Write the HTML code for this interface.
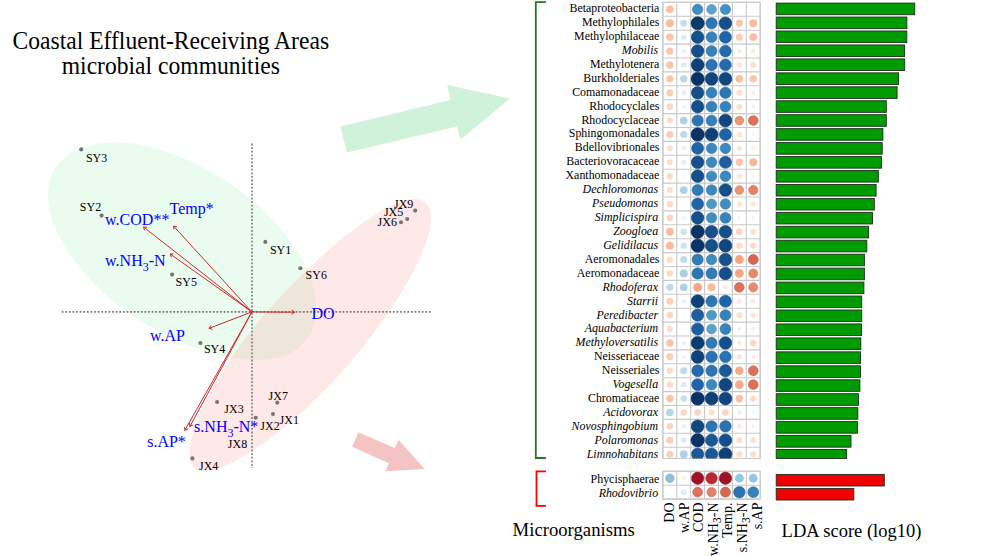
<!DOCTYPE html>
<html><head><meta charset="utf-8"><style>
html,body{margin:0;padding:0;background:#fff;width:1000px;height:556px;overflow:hidden}
svg{display:block}
text{font-family:"Liberation Serif",serif}
</style></head><body>
<svg width="1000" height="556" viewBox="0 0 1000 556">
<defs>
<clipPath id="gclip"><rect x="600" y="0" width="200" height="458.5"/></clipPath>
<clipPath id="pinkclip"><path d="M427.3,204.9 L428.2,206.2 L429.0,207.7 L429.6,209.3 L430.1,211.1 L430.5,213.0 L430.7,215.0 L430.8,217.1 L430.8,219.3 L430.7,221.6 L430.5,224.0 L430.1,226.6 L429.7,229.2 L429.1,231.9 L428.4,234.8 L427.6,237.7 L426.7,240.6 L425.6,243.7 L424.5,246.9 L423.3,250.1 L421.9,253.4 L420.5,256.7 L418.9,260.2 L417.3,263.6 L415.5,267.2 L413.7,270.8 L411.8,274.4 L409.8,278.1 L407.7,281.8 L405.5,285.5 L403.3,289.3 L401.0,293.1 L398.6,297.0 L396.1,300.8 L393.6,304.7 L391.0,308.6 L388.3,312.5 L385.6,316.5 L382.9,320.4 L380.0,324.3 L377.2,328.3 L374.2,332.2 L371.2,336.2 L368.2,340.1 L365.1,344.0 L362.0,348.0 L358.8,351.9 L355.6,355.8 L352.4,359.7 L349.1,363.5 L345.7,367.4 L342.4,371.2 L339.0,375.0 L335.6,378.7 L332.1,382.4 L328.7,386.1 L325.2,389.7 L321.7,393.2 L318.2,396.7 L314.7,400.2 L311.1,403.6 L307.6,406.9 L304.1,410.2 L300.6,413.3 L297.1,416.5 L293.6,419.5 L290.1,422.5 L286.7,425.4 L283.2,428.2 L279.8,431.0 L276.4,433.6 L273.0,436.2 L269.7,438.7 L266.3,441.2 L263.0,443.5 L259.8,445.8 L256.5,448.0 L253.3,450.2 L250.2,452.2 L247.0,454.2 L243.9,456.0 L240.9,457.8 L237.8,459.5 L234.9,461.1 L232.0,462.6 L229.1,464.0 L226.3,465.3 L223.5,466.4 L220.8,467.5 L218.2,468.4 L215.7,469.2 L213.3,469.8 L210.9,470.3 L208.7,470.7 L206.5,470.9 L204.5,471.0 L202.6,470.9 L200.8,470.7 L199.1,470.3 L197.6,469.7 L196.1,469.0 L194.9,468.1 L193.7,467.0 L192.7,465.8 L191.8,464.5 L191.1,462.9 L190.5,461.3 L190.0,459.5 L189.7,457.5 L189.5,455.5 L189.5,453.3 L189.5,450.9 L189.7,448.5 L190.0,445.9 L190.5,443.3 L191.0,440.5 L191.7,437.7 L192.5,434.7 L193.4,431.7 L194.4,428.5 L195.5,425.3 L196.7,422.0 L198.0,418.7 L199.4,415.2 L200.9,411.7 L202.5,408.1 L204.2,404.5 L206.0,400.7 L207.9,396.9 L210.0,393.1 L212.1,389.2 L214.3,385.2 L216.6,381.1 L219.1,377.0 L221.6,372.9 L224.2,368.7 L227.0,364.5 L229.8,360.2 L232.7,355.9 L235.7,351.6 L238.8,347.3 L242.0,342.9 L245.3,338.6 L248.6,334.2 L252.0,329.9 L255.5,325.5 L259.1,321.2 L262.6,316.9 L266.3,312.7 L269.9,308.4 L273.7,304.3 L277.4,300.1 L281.2,296.0 L284.9,292.0 L288.7,288.0 L292.6,284.1 L296.4,280.2 L300.2,276.4 L304.0,272.7 L307.9,269.0 L311.7,265.4 L315.5,261.8 L319.3,258.3 L323.1,254.9 L326.9,251.5 L330.7,248.2 L334.5,245.0 L338.2,241.9 L341.9,238.8 L345.7,235.8 L349.3,232.9 L353.0,230.1 L356.6,227.3 L360.2,224.7 L363.8,222.1 L367.3,219.7 L370.8,217.4 L374.2,215.2 L377.6,213.1 L380.9,211.1 L384.2,209.3 L387.3,207.6 L390.4,206.1 L393.4,204.7 L396.3,203.4 L399.1,202.3 L401.8,201.4 L404.4,200.6 L406.9,200.0 L409.3,199.5 L411.6,199.2 L413.7,199.1 L415.7,199.1 L417.6,199.3 L419.4,199.6 L421.1,200.1 L422.6,200.8 L424.0,201.6 L425.2,202.5 L426.3,203.6Z"/></clipPath>
</defs>
<!-- title -->
<g font-size="23.6" text-anchor="middle" fill="#000">
<text transform="translate(170.8,48.6) scale(1,1.08)">Coastal Effluent-Receiving Areas</text>
<text transform="translate(170.8,74.2) scale(1,1.08)">microbial communities</text>
</g>
<!-- ellipses -->
<path d="M310.3,333.9 L309.1,336.1 L307.7,338.2 L306.2,340.3 L304.6,342.3 L302.9,344.1 L301.0,345.9 L299.0,347.6 L296.9,349.2 L294.6,350.7 L292.2,352.1 L289.7,353.4 L287.0,354.5 L284.3,355.6 L281.4,356.5 L278.4,357.4 L275.3,358.1 L272.1,358.6 L268.8,359.1 L265.4,359.5 L261.9,359.7 L258.3,359.8 L254.7,359.8 L250.9,359.7 L247.1,359.5 L243.3,359.2 L239.3,358.7 L235.4,358.2 L231.3,357.5 L227.2,356.7 L223.1,355.9 L218.9,354.9 L214.7,353.8 L210.5,352.7 L206.2,351.4 L202.0,350.0 L197.6,348.6 L193.3,347.0 L189.0,345.4 L184.6,343.6 L180.3,341.8 L175.9,339.9 L171.6,337.9 L167.2,335.8 L162.9,333.6 L158.6,331.3 L154.2,329.0 L150.0,326.5 L145.7,324.0 L141.5,321.4 L137.3,318.7 L133.2,315.9 L129.1,313.1 L125.1,310.2 L121.1,307.2 L117.2,304.2 L113.4,301.1 L109.6,298.0 L106.0,294.8 L102.4,291.6 L98.9,288.3 L95.5,284.9 L92.2,281.6 L89.0,278.2 L85.9,274.8 L82.9,271.4 L80.1,267.9 L77.3,264.4 L74.6,261.0 L72.1,257.5 L69.7,254.0 L67.4,250.6 L65.2,247.1 L63.2,243.6 L61.3,240.2 L59.5,236.8 L57.8,233.4 L56.3,230.0 L54.9,226.6 L53.6,223.3 L52.4,220.0 L51.4,216.8 L50.5,213.5 L49.8,210.4 L49.2,207.2 L48.7,204.2 L48.3,201.2 L48.1,198.2 L48.1,195.3 L48.1,192.4 L48.3,189.6 L48.6,186.9 L49.1,184.3 L49.6,181.7 L50.3,179.2 L51.2,176.7 L52.1,174.4 L53.2,172.1 L54.4,169.9 L55.7,167.7 L57.2,165.7 L58.7,163.7 L60.4,161.8 L62.1,160.0 L64.0,158.3 L66.0,156.7 L68.1,155.1 L70.3,153.6 L72.6,152.3 L74.9,151.0 L77.4,149.7 L80.0,148.6 L82.6,147.6 L85.4,146.6 L88.2,145.8 L91.2,145.0 L94.2,144.4 L97.3,143.8 L100.5,143.3 L103.7,142.9 L107.1,142.7 L110.5,142.5 L114.0,142.4 L117.6,142.4 L121.2,142.6 L125.0,142.8 L128.7,143.2 L132.6,143.6 L136.5,144.2 L140.4,144.9 L144.4,145.7 L148.5,146.6 L152.6,147.6 L156.7,148.7 L160.9,149.9 L165.1,151.2 L169.3,152.7 L173.5,154.2 L177.7,155.8 L182.0,157.6 L186.2,159.4 L190.5,161.3 L194.7,163.3 L199.0,165.4 L203.2,167.6 L207.4,169.9 L211.5,172.2 L215.7,174.7 L219.8,177.2 L223.9,179.8 L227.9,182.4 L231.9,185.1 L235.8,187.9 L239.7,190.7 L243.5,193.6 L247.2,196.6 L250.9,199.6 L254.5,202.6 L258.0,205.7 L261.5,208.8 L264.9,212.0 L268.2,215.2 L271.4,218.5 L274.5,221.7 L277.5,225.0 L280.4,228.4 L283.2,231.7 L285.8,235.0 L288.4,238.4 L290.9,241.8 L293.2,245.1 L295.5,248.5 L297.6,251.8 L299.6,255.2 L301.5,258.5 L303.3,261.8 L304.9,265.1 L306.4,268.4 L307.8,271.7 L309.1,274.9 L310.3,278.1 L311.4,281.3 L312.3,284.5 L313.2,287.6 L313.9,290.6 L314.5,293.7 L315.0,296.7 L315.4,299.7 L315.7,302.6 L315.9,305.5 L315.9,308.3 L315.9,311.1 L315.7,313.8 L315.5,316.5 L315.1,319.2 L314.6,321.8 L314.0,324.3 L313.2,326.8 L312.4,329.2 L311.4,331.6Z" fill="#eafbf0"/>
<path d="M427.3,204.9 L428.2,206.2 L429.0,207.7 L429.6,209.3 L430.1,211.1 L430.5,213.0 L430.7,215.0 L430.8,217.1 L430.8,219.3 L430.7,221.6 L430.5,224.0 L430.1,226.6 L429.7,229.2 L429.1,231.9 L428.4,234.8 L427.6,237.7 L426.7,240.6 L425.6,243.7 L424.5,246.9 L423.3,250.1 L421.9,253.4 L420.5,256.7 L418.9,260.2 L417.3,263.6 L415.5,267.2 L413.7,270.8 L411.8,274.4 L409.8,278.1 L407.7,281.8 L405.5,285.5 L403.3,289.3 L401.0,293.1 L398.6,297.0 L396.1,300.8 L393.6,304.7 L391.0,308.6 L388.3,312.5 L385.6,316.5 L382.9,320.4 L380.0,324.3 L377.2,328.3 L374.2,332.2 L371.2,336.2 L368.2,340.1 L365.1,344.0 L362.0,348.0 L358.8,351.9 L355.6,355.8 L352.4,359.7 L349.1,363.5 L345.7,367.4 L342.4,371.2 L339.0,375.0 L335.6,378.7 L332.1,382.4 L328.7,386.1 L325.2,389.7 L321.7,393.2 L318.2,396.7 L314.7,400.2 L311.1,403.6 L307.6,406.9 L304.1,410.2 L300.6,413.3 L297.1,416.5 L293.6,419.5 L290.1,422.5 L286.7,425.4 L283.2,428.2 L279.8,431.0 L276.4,433.6 L273.0,436.2 L269.7,438.7 L266.3,441.2 L263.0,443.5 L259.8,445.8 L256.5,448.0 L253.3,450.2 L250.2,452.2 L247.0,454.2 L243.9,456.0 L240.9,457.8 L237.8,459.5 L234.9,461.1 L232.0,462.6 L229.1,464.0 L226.3,465.3 L223.5,466.4 L220.8,467.5 L218.2,468.4 L215.7,469.2 L213.3,469.8 L210.9,470.3 L208.7,470.7 L206.5,470.9 L204.5,471.0 L202.6,470.9 L200.8,470.7 L199.1,470.3 L197.6,469.7 L196.1,469.0 L194.9,468.1 L193.7,467.0 L192.7,465.8 L191.8,464.5 L191.1,462.9 L190.5,461.3 L190.0,459.5 L189.7,457.5 L189.5,455.5 L189.5,453.3 L189.5,450.9 L189.7,448.5 L190.0,445.9 L190.5,443.3 L191.0,440.5 L191.7,437.7 L192.5,434.7 L193.4,431.7 L194.4,428.5 L195.5,425.3 L196.7,422.0 L198.0,418.7 L199.4,415.2 L200.9,411.7 L202.5,408.1 L204.2,404.5 L206.0,400.7 L207.9,396.9 L210.0,393.1 L212.1,389.2 L214.3,385.2 L216.6,381.1 L219.1,377.0 L221.6,372.9 L224.2,368.7 L227.0,364.5 L229.8,360.2 L232.7,355.9 L235.7,351.6 L238.8,347.3 L242.0,342.9 L245.3,338.6 L248.6,334.2 L252.0,329.9 L255.5,325.5 L259.1,321.2 L262.6,316.9 L266.3,312.7 L269.9,308.4 L273.7,304.3 L277.4,300.1 L281.2,296.0 L284.9,292.0 L288.7,288.0 L292.6,284.1 L296.4,280.2 L300.2,276.4 L304.0,272.7 L307.9,269.0 L311.7,265.4 L315.5,261.8 L319.3,258.3 L323.1,254.9 L326.9,251.5 L330.7,248.2 L334.5,245.0 L338.2,241.9 L341.9,238.8 L345.7,235.8 L349.3,232.9 L353.0,230.1 L356.6,227.3 L360.2,224.7 L363.8,222.1 L367.3,219.7 L370.8,217.4 L374.2,215.2 L377.6,213.1 L380.9,211.1 L384.2,209.3 L387.3,207.6 L390.4,206.1 L393.4,204.7 L396.3,203.4 L399.1,202.3 L401.8,201.4 L404.4,200.6 L406.9,200.0 L409.3,199.5 L411.6,199.2 L413.7,199.1 L415.7,199.1 L417.6,199.3 L419.4,199.6 L421.1,200.1 L422.6,200.8 L424.0,201.6 L425.2,202.5 L426.3,203.6Z" fill="#ffe8e8"/>
<g clip-path="url(#pinkclip)"><path d="M310.3,333.9 L309.1,336.1 L307.7,338.2 L306.2,340.3 L304.6,342.3 L302.9,344.1 L301.0,345.9 L299.0,347.6 L296.9,349.2 L294.6,350.7 L292.2,352.1 L289.7,353.4 L287.0,354.5 L284.3,355.6 L281.4,356.5 L278.4,357.4 L275.3,358.1 L272.1,358.6 L268.8,359.1 L265.4,359.5 L261.9,359.7 L258.3,359.8 L254.7,359.8 L250.9,359.7 L247.1,359.5 L243.3,359.2 L239.3,358.7 L235.4,358.2 L231.3,357.5 L227.2,356.7 L223.1,355.9 L218.9,354.9 L214.7,353.8 L210.5,352.7 L206.2,351.4 L202.0,350.0 L197.6,348.6 L193.3,347.0 L189.0,345.4 L184.6,343.6 L180.3,341.8 L175.9,339.9 L171.6,337.9 L167.2,335.8 L162.9,333.6 L158.6,331.3 L154.2,329.0 L150.0,326.5 L145.7,324.0 L141.5,321.4 L137.3,318.7 L133.2,315.9 L129.1,313.1 L125.1,310.2 L121.1,307.2 L117.2,304.2 L113.4,301.1 L109.6,298.0 L106.0,294.8 L102.4,291.6 L98.9,288.3 L95.5,284.9 L92.2,281.6 L89.0,278.2 L85.9,274.8 L82.9,271.4 L80.1,267.9 L77.3,264.4 L74.6,261.0 L72.1,257.5 L69.7,254.0 L67.4,250.6 L65.2,247.1 L63.2,243.6 L61.3,240.2 L59.5,236.8 L57.8,233.4 L56.3,230.0 L54.9,226.6 L53.6,223.3 L52.4,220.0 L51.4,216.8 L50.5,213.5 L49.8,210.4 L49.2,207.2 L48.7,204.2 L48.3,201.2 L48.1,198.2 L48.1,195.3 L48.1,192.4 L48.3,189.6 L48.6,186.9 L49.1,184.3 L49.6,181.7 L50.3,179.2 L51.2,176.7 L52.1,174.4 L53.2,172.1 L54.4,169.9 L55.7,167.7 L57.2,165.7 L58.7,163.7 L60.4,161.8 L62.1,160.0 L64.0,158.3 L66.0,156.7 L68.1,155.1 L70.3,153.6 L72.6,152.3 L74.9,151.0 L77.4,149.7 L80.0,148.6 L82.6,147.6 L85.4,146.6 L88.2,145.8 L91.2,145.0 L94.2,144.4 L97.3,143.8 L100.5,143.3 L103.7,142.9 L107.1,142.7 L110.5,142.5 L114.0,142.4 L117.6,142.4 L121.2,142.6 L125.0,142.8 L128.7,143.2 L132.6,143.6 L136.5,144.2 L140.4,144.9 L144.4,145.7 L148.5,146.6 L152.6,147.6 L156.7,148.7 L160.9,149.9 L165.1,151.2 L169.3,152.7 L173.5,154.2 L177.7,155.8 L182.0,157.6 L186.2,159.4 L190.5,161.3 L194.7,163.3 L199.0,165.4 L203.2,167.6 L207.4,169.9 L211.5,172.2 L215.7,174.7 L219.8,177.2 L223.9,179.8 L227.9,182.4 L231.9,185.1 L235.8,187.9 L239.7,190.7 L243.5,193.6 L247.2,196.6 L250.9,199.6 L254.5,202.6 L258.0,205.7 L261.5,208.8 L264.9,212.0 L268.2,215.2 L271.4,218.5 L274.5,221.7 L277.5,225.0 L280.4,228.4 L283.2,231.7 L285.8,235.0 L288.4,238.4 L290.9,241.8 L293.2,245.1 L295.5,248.5 L297.6,251.8 L299.6,255.2 L301.5,258.5 L303.3,261.8 L304.9,265.1 L306.4,268.4 L307.8,271.7 L309.1,274.9 L310.3,278.1 L311.4,281.3 L312.3,284.5 L313.2,287.6 L313.9,290.6 L314.5,293.7 L315.0,296.7 L315.4,299.7 L315.7,302.6 L315.9,305.5 L315.9,308.3 L315.9,311.1 L315.7,313.8 L315.5,316.5 L315.1,319.2 L314.6,321.8 L314.0,324.3 L313.2,326.8 L312.4,329.2 L311.4,331.6Z" fill="#eee6db"/></g>
<!-- axes -->
<g stroke="#7a7a7a" stroke-width="1.6" stroke-dasharray="1.8 1.8">
<line x1="61.7" y1="311.9" x2="432" y2="311.9"/>
<line x1="252.05" y1="143.6" x2="252.05" y2="468"/>
</g>
<!-- big arrows -->
<polygon points="340.4,126.6 450.4,100 447,85 510,98.6 460.4,139.6 457,126.6 347,152.6" fill="#d0f2da"/>
<polygon points="358.4,432.3 394.7,448.1 398.7,439.9 424.6,469 385.3,471.2 388.9,463.2 352.2,446.7" fill="#f4c4c4"/>
<!-- vectors -->
<g stroke="#d02828" stroke-width="1.0" fill="none" ><path d="M251.9,311.9 L143.5,227.0 M144.61,230.43 L143.5,227.0 L147.09,227.26"/>
<path d="M251.9,311.9 L173.5,226.0 M174.03,229.56 L173.5,226.0 L177.00,226.85"/>
<path d="M251.9,311.9 L170.1,253.9 M171.37,257.27 L170.1,253.9 L173.70,253.98"/>
<path d="M251.9,311.9 L294.7,312.2 M291.73,310.17 L294.7,312.2 L291.70,314.19"/>
<path d="M251.9,311.9 L209.0,328.4 M212.51,329.21 L209.0,328.4 L211.06,325.45"/>
<path d="M251.9,311.9 L184.8,430.4 M188.02,428.79 L184.8,430.4 L184.52,426.81"/>
<path d="M251.9,311.9 L189.9,426.5 M193.09,424.83 L189.9,426.5 L189.55,422.92"/></g>
<!-- dots -->
<g fill="#7b7373">
<circle cx="81.2" cy="149.4" r="2.05"/><circle cx="101.6" cy="215.6" r="2.05"/><circle cx="172.1" cy="274.6" r="2.05"/>
<circle cx="265.3" cy="241.9" r="2.05"/><circle cx="300.4" cy="268.3" r="2.05"/><circle cx="200.4" cy="343" r="2.05"/>
<circle cx="415.2" cy="210.6" r="2.05"/><circle cx="407.2" cy="219" r="2.05"/><circle cx="401" cy="222.3" r="2.05"/>
<circle cx="217.1" cy="402" r="2.05"/><circle cx="277.3" cy="402.6" r="2.05"/><circle cx="255.7" cy="417.8" r="2.05"/>
<circle cx="273" cy="414" r="2.05"/><circle cx="192.4" cy="458.4" r="2.05"/>
</g>
<g font-size="12" fill="#000">
<text transform="translate(85.9,161.5) scale(1,1.1)">SY3</text><text transform="translate(79.8,210.9) scale(1,1.1)">SY2</text><text transform="translate(175.6,285.9) scale(1,1.1)">SY5</text>
<text transform="translate(269.9,254.2) scale(1,1.1)">SY1</text><text transform="translate(305.6,279.3) scale(1,1.1)">SY6</text><text transform="translate(203.9,353) scale(1,1.1)">SY4</text>
<text transform="translate(394,208.3) scale(1,1.1)">JX9</text><text transform="translate(383.9,216) scale(1,1.1)">JX5</text><text transform="translate(377.6,225.5) scale(1,1.1)">JX6</text>
<text transform="translate(224.3,412.7) scale(1,1.1)">JX3</text><text transform="translate(268.6,400) scale(1,1.1)">JX7</text><text transform="translate(260.3,430.2) scale(1,1.1)">JX2</text>
<text transform="translate(279.6,423.6) scale(1,1.1)">JX1</text><text transform="translate(227.8,447.5) scale(1,1.1)">JX8</text><text transform="translate(199,469.6) scale(1,1.1)">JX4</text>
</g>
<g font-size="16" fill="#0000ff">
<text x="105.1" y="224.7">w.COD**</text>
<text x="169.6" y="213.5">Temp*</text>
<text x="105.1" y="266.4">w.NH<tspan font-size="12" dy="4.5">3</tspan><tspan dy="-4.5">-N</tspan></text>
<text x="311.4" y="318.7">DO</text>
<text x="150" y="340.9">w.AP</text>
<text x="194.1" y="432.2">s.NH<tspan font-size="12" dy="4.5">3</tspan><tspan dy="-4.5">-N*</tspan></text>
<text x="147.2" y="446.6">s.AP*</text>
</g>
<!-- brackets -->
<path d="M545.9,2.2 H535.8 V458 H545.9" stroke="#227a22" stroke-width="1.8" fill="none"/>
<path d="M545.9,471.4 H536.5 V505.9 H545.9" stroke="#ff0000" stroke-width="1.8" fill="none"/>
<g stroke="#c9c9c9" stroke-width="1.1">
<rect x="662.9" y="2.4" width="97.30" height="456.10" fill="#fff"/>
<line x1="662.90" y1="2.4" x2="662.90" y2="458.50"/>
<line x1="676.80" y1="2.4" x2="676.80" y2="458.50"/>
<line x1="690.70" y1="2.4" x2="690.70" y2="458.50"/>
<line x1="704.60" y1="2.4" x2="704.60" y2="458.50"/>
<line x1="718.50" y1="2.4" x2="718.50" y2="458.50"/>
<line x1="732.40" y1="2.4" x2="732.40" y2="458.50"/>
<line x1="746.30" y1="2.4" x2="746.30" y2="458.50"/>
<line x1="760.20" y1="2.4" x2="760.20" y2="458.50"/>
<line x1="662.9" y1="2.40" x2="760.20" y2="2.40"/>
<line x1="662.9" y1="16.30" x2="760.20" y2="16.30"/>
<line x1="662.9" y1="30.20" x2="760.20" y2="30.20"/>
<line x1="662.9" y1="44.10" x2="760.20" y2="44.10"/>
<line x1="662.9" y1="58.00" x2="760.20" y2="58.00"/>
<line x1="662.9" y1="71.90" x2="760.20" y2="71.90"/>
<line x1="662.9" y1="85.80" x2="760.20" y2="85.80"/>
<line x1="662.9" y1="99.70" x2="760.20" y2="99.70"/>
<line x1="662.9" y1="113.60" x2="760.20" y2="113.60"/>
<line x1="662.9" y1="127.50" x2="760.20" y2="127.50"/>
<line x1="662.9" y1="141.40" x2="760.20" y2="141.40"/>
<line x1="662.9" y1="155.30" x2="760.20" y2="155.30"/>
<line x1="662.9" y1="169.20" x2="760.20" y2="169.20"/>
<line x1="662.9" y1="183.10" x2="760.20" y2="183.10"/>
<line x1="662.9" y1="197.00" x2="760.20" y2="197.00"/>
<line x1="662.9" y1="210.90" x2="760.20" y2="210.90"/>
<line x1="662.9" y1="224.80" x2="760.20" y2="224.80"/>
<line x1="662.9" y1="238.70" x2="760.20" y2="238.70"/>
<line x1="662.9" y1="252.60" x2="760.20" y2="252.60"/>
<line x1="662.9" y1="266.50" x2="760.20" y2="266.50"/>
<line x1="662.9" y1="280.40" x2="760.20" y2="280.40"/>
<line x1="662.9" y1="294.30" x2="760.20" y2="294.30"/>
<line x1="662.9" y1="308.20" x2="760.20" y2="308.20"/>
<line x1="662.9" y1="322.10" x2="760.20" y2="322.10"/>
<line x1="662.9" y1="336.00" x2="760.20" y2="336.00"/>
<line x1="662.9" y1="349.90" x2="760.20" y2="349.90"/>
<line x1="662.9" y1="363.80" x2="760.20" y2="363.80"/>
<line x1="662.9" y1="377.70" x2="760.20" y2="377.70"/>
<line x1="662.9" y1="391.60" x2="760.20" y2="391.60"/>
<line x1="662.9" y1="405.50" x2="760.20" y2="405.50"/>
<line x1="662.9" y1="419.40" x2="760.20" y2="419.40"/>
<line x1="662.9" y1="433.30" x2="760.20" y2="433.30"/>
<line x1="662.9" y1="447.20" x2="760.20" y2="447.20"/>
<rect x="662.9" y="471.3" width="97.30" height="27.80" fill="#fff"/>
<line x1="662.90" y1="471.3" x2="662.90" y2="499.10"/>
<line x1="676.80" y1="471.3" x2="676.80" y2="499.10"/>
<line x1="690.70" y1="471.3" x2="690.70" y2="499.10"/>
<line x1="704.60" y1="471.3" x2="704.60" y2="499.10"/>
<line x1="718.50" y1="471.3" x2="718.50" y2="499.10"/>
<line x1="732.40" y1="471.3" x2="732.40" y2="499.10"/>
<line x1="746.30" y1="471.3" x2="746.30" y2="499.10"/>
<line x1="760.20" y1="471.3" x2="760.20" y2="499.10"/>
<line x1="662.9" y1="471.30" x2="760.20" y2="471.30"/>
<line x1="662.9" y1="485.20" x2="760.20" y2="485.20"/>
<line x1="662.9" y1="499.10" x2="760.20" y2="499.10"/>
</g>
<g clip-path="url(#gclip)">
<circle cx="669.85" cy="9.35" r="3.83" fill="#f8c0a4"/>
<circle cx="683.75" cy="9.35" r="1.01" fill="#fafcfd"/>
<circle cx="697.65" cy="9.35" r="5.23" fill="#3f8ec0" stroke="#377da9" stroke-width="0.6"/>
<circle cx="711.55" cy="9.35" r="4.85" fill="#5aa2cb" stroke="#4f8fb3" stroke-width="0.6"/>
<circle cx="725.45" cy="9.35" r="5.14" fill="#4292c3" stroke="#3a80ac" stroke-width="0.6"/>
<circle cx="739.35" cy="9.35" r="1.21" fill="#fffaf7"/>
<circle cx="753.25" cy="9.35" r="1.40" fill="#fff8f4"/>
<circle cx="669.85" cy="23.25" r="3.96" fill="#f8bb9e"/>
<circle cx="683.75" cy="23.25" r="3.42" fill="#c5dfec"/>
<circle cx="697.65" cy="23.25" r="6.58" fill="#0a396d" stroke="#093260" stroke-width="0.6"/>
<circle cx="711.55" cy="23.25" r="5.67" fill="#2d76b4" stroke="#28689e" stroke-width="0.6"/>
<circle cx="725.45" cy="23.25" r="6.28" fill="#154f8c" stroke="#12467b" stroke-width="0.6"/>
<circle cx="739.35" cy="23.25" r="3.64" fill="#fac8af"/>
<circle cx="753.25" cy="23.25" r="3.96" fill="#f8bb9e"/>
<circle cx="669.85" cy="37.15" r="3.70" fill="#f9c5ab"/>
<circle cx="683.75" cy="37.15" r="2.76" fill="#dbebf3"/>
<circle cx="697.65" cy="37.15" r="6.28" fill="#154f8c" stroke="#12467b" stroke-width="0.6"/>
<circle cx="711.55" cy="37.15" r="5.46" fill="#3682ba" stroke="#3072a4" stroke-width="0.6"/>
<circle cx="725.45" cy="37.15" r="6.00" fill="#1f63a8" stroke="#1b5794" stroke-width="0.6"/>
<circle cx="739.35" cy="37.15" r="3.50" fill="#fbceb6"/>
<circle cx="753.25" cy="37.15" r="3.83" fill="#f8c0a4"/>
<circle cx="669.85" cy="51.05" r="3.64" fill="#fac8af"/>
<circle cx="683.75" cy="51.05" r="2.26" fill="#e7f1f7"/>
<circle cx="697.65" cy="51.05" r="6.28" fill="#154f8c" stroke="#12467b" stroke-width="0.6"/>
<circle cx="711.55" cy="51.05" r="5.46" fill="#3682ba" stroke="#3072a4" stroke-width="0.6"/>
<circle cx="725.45" cy="51.05" r="5.88" fill="#246aae" stroke="#205d99" stroke-width="0.6"/>
<circle cx="739.35" cy="51.05" r="2.42" fill="#fee9dd"/>
<circle cx="753.25" cy="51.05" r="2.42" fill="#fee9dd"/>
<circle cx="669.85" cy="64.95" r="3.70" fill="#f9c5ab"/>
<circle cx="683.75" cy="64.95" r="2.76" fill="#dbebf3"/>
<circle cx="697.65" cy="64.95" r="6.47" fill="#0e4179" stroke="#0c396a" stroke-width="0.6"/>
<circle cx="711.55" cy="64.95" r="5.76" fill="#2a72b2" stroke="#25649d" stroke-width="0.6"/>
<circle cx="725.45" cy="64.95" r="5.88" fill="#246aae" stroke="#205d99" stroke-width="0.6"/>
<circle cx="739.35" cy="64.95" r="2.71" fill="#fee4d5"/>
<circle cx="753.25" cy="64.95" r="2.97" fill="#fddfcd"/>
<circle cx="669.85" cy="78.85" r="3.70" fill="#f9c5ab"/>
<circle cx="683.75" cy="78.85" r="3.71" fill="#b8d8e9"/>
<circle cx="697.65" cy="78.85" r="6.66" fill="#073366" stroke="#062d5a" stroke-width="0.6"/>
<circle cx="711.55" cy="78.85" r="6.40" fill="#114781" stroke="#0f3e72" stroke-width="0.6"/>
<circle cx="725.45" cy="78.85" r="6.40" fill="#114781" stroke="#0f3e72" stroke-width="0.6"/>
<circle cx="739.35" cy="78.85" r="3.83" fill="#f8c0a4"/>
<circle cx="753.25" cy="78.85" r="3.70" fill="#f9c5ab"/>
<circle cx="669.85" cy="92.75" r="3.50" fill="#fbceb6"/>
<circle cx="683.75" cy="92.75" r="2.47" fill="#e2eff6"/>
<circle cx="697.65" cy="92.75" r="6.28" fill="#154f8c" stroke="#12467b" stroke-width="0.6"/>
<circle cx="711.55" cy="92.75" r="5.46" fill="#3682ba" stroke="#3072a4" stroke-width="0.6"/>
<circle cx="725.45" cy="92.75" r="5.67" fill="#2d76b4" stroke="#28689e" stroke-width="0.6"/>
<circle cx="739.35" cy="92.75" r="2.97" fill="#fddfcd"/>
<circle cx="753.25" cy="92.75" r="2.21" fill="#feede3"/>
<circle cx="669.85" cy="106.65" r="3.28" fill="#fcd6c0"/>
<circle cx="683.75" cy="106.65" r="2.02" fill="#ecf4f9"/>
<circle cx="697.65" cy="106.65" r="6.28" fill="#154f8c" stroke="#12467b" stroke-width="0.6"/>
<circle cx="711.55" cy="106.65" r="5.46" fill="#3682ba" stroke="#3072a4" stroke-width="0.6"/>
<circle cx="725.45" cy="106.65" r="5.46" fill="#3682ba" stroke="#3072a4" stroke-width="0.6"/>
<circle cx="739.35" cy="106.65" r="2.97" fill="#fddfcd"/>
<circle cx="753.25" cy="106.65" r="2.21" fill="#feede3"/>
<circle cx="669.85" cy="120.55" r="3.13" fill="#fddbc7"/>
<circle cx="683.75" cy="120.55" r="3.91" fill="#aed3e6"/>
<circle cx="697.65" cy="120.55" r="5.67" fill="#2d76b4" stroke="#28689e" stroke-width="0.6"/>
<circle cx="711.55" cy="120.55" r="5.46" fill="#3682ba" stroke="#3072a4" stroke-width="0.6"/>
<circle cx="725.45" cy="120.55" r="6.40" fill="#114781" stroke="#0f3e72" stroke-width="0.6"/>
<circle cx="739.35" cy="120.55" r="4.40" fill="#ec9475" stroke="#d08267" stroke-width="0.6"/>
<circle cx="753.25" cy="120.55" r="4.89" fill="#de715a" stroke="#c3634f" stroke-width="0.6"/>
<circle cx="669.85" cy="134.45" r="3.50" fill="#fbceb6"/>
<circle cx="683.75" cy="134.45" r="3.57" fill="#bedbeb"/>
<circle cx="697.65" cy="134.45" r="6.66" fill="#073366" stroke="#062d5a" stroke-width="0.6"/>
<circle cx="711.55" cy="134.45" r="6.47" fill="#0e4179" stroke="#0c396a" stroke-width="0.6"/>
<circle cx="725.45" cy="134.45" r="6.00" fill="#1f63a8" stroke="#1b5794" stroke-width="0.6"/>
<circle cx="739.35" cy="134.45" r="2.71" fill="#fee4d5"/>
<circle cx="753.25" cy="134.45" r="1.57" fill="#fef6f1"/>
<circle cx="669.85" cy="148.35" r="2.97" fill="#fddfcd"/>
<circle cx="683.75" cy="148.35" r="2.26" fill="#e7f1f7"/>
<circle cx="697.65" cy="148.35" r="6.00" fill="#1f63a8" stroke="#1b5794" stroke-width="0.6"/>
<circle cx="711.55" cy="148.35" r="5.32" fill="#3b89be" stroke="#3479a7" stroke-width="0.6"/>
<circle cx="725.45" cy="148.35" r="5.32" fill="#3b89be" stroke="#3479a7" stroke-width="0.6"/>
<circle cx="739.35" cy="148.35" r="2.71" fill="#fee4d5"/>
<circle cx="753.25" cy="148.35" r="2.21" fill="#feede3"/>
<circle cx="669.85" cy="162.25" r="2.97" fill="#fddfcd"/>
<circle cx="683.75" cy="162.25" r="2.47" fill="#e2eff6"/>
<circle cx="697.65" cy="162.25" r="6.28" fill="#154f8c" stroke="#12467b" stroke-width="0.6"/>
<circle cx="711.55" cy="162.25" r="5.32" fill="#3b89be" stroke="#3479a7" stroke-width="0.6"/>
<circle cx="725.45" cy="162.25" r="6.08" fill="#1d5da0" stroke="#1a528d" stroke-width="0.6"/>
<circle cx="739.35" cy="162.25" r="3.70" fill="#f9c5ab"/>
<circle cx="753.25" cy="162.25" r="4.02" fill="#f7b89a"/>
<circle cx="669.85" cy="176.15" r="3.13" fill="#fddbc7"/>
<circle cx="683.75" cy="176.15" r="1.60" fill="#f3f8fb"/>
<circle cx="697.65" cy="176.15" r="6.28" fill="#154f8c" stroke="#12467b" stroke-width="0.6"/>
<circle cx="711.55" cy="176.15" r="5.23" fill="#3f8ec0" stroke="#377da9" stroke-width="0.6"/>
<circle cx="725.45" cy="176.15" r="5.32" fill="#3b89be" stroke="#3479a7" stroke-width="0.6"/>
<circle cx="739.35" cy="176.15" r="2.71" fill="#fee4d5"/>
<circle cx="753.25" cy="176.15" r="1.98" fill="#fef1e9"/>
<circle cx="669.85" cy="190.05" r="2.97" fill="#fddfcd"/>
<circle cx="683.75" cy="190.05" r="3.91" fill="#aed3e6"/>
<circle cx="697.65" cy="190.05" r="5.59" fill="#317bb7" stroke="#2b6ca1" stroke-width="0.6"/>
<circle cx="711.55" cy="190.05" r="5.32" fill="#3b89be" stroke="#3479a7" stroke-width="0.6"/>
<circle cx="725.45" cy="190.05" r="6.28" fill="#154f8c" stroke="#12467b" stroke-width="0.6"/>
<circle cx="739.35" cy="190.05" r="4.40" fill="#ec9475" stroke="#d08267" stroke-width="0.6"/>
<circle cx="753.25" cy="190.05" r="4.65" fill="#e58268" stroke="#ca725c" stroke-width="0.6"/>
<circle cx="669.85" cy="203.95" r="3.13" fill="#fddbc7"/>
<circle cx="683.75" cy="203.95" r="1.24" fill="#f8fbfd"/>
<circle cx="697.65" cy="203.95" r="6.00" fill="#1f63a8" stroke="#1b5794" stroke-width="0.6"/>
<circle cx="711.55" cy="203.95" r="4.99" fill="#4e9ac7" stroke="#4588af" stroke-width="0.6"/>
<circle cx="725.45" cy="203.95" r="5.23" fill="#3f8ec0" stroke="#377da9" stroke-width="0.6"/>
<circle cx="739.35" cy="203.95" r="2.71" fill="#fee4d5"/>
<circle cx="753.25" cy="203.95" r="2.42" fill="#fee9dd"/>
<circle cx="669.85" cy="217.85" r="3.28" fill="#fcd6c0"/>
<circle cx="683.75" cy="217.85" r="2.02" fill="#ecf4f9"/>
<circle cx="697.65" cy="217.85" r="6.28" fill="#154f8c" stroke="#12467b" stroke-width="0.6"/>
<circle cx="711.55" cy="217.85" r="5.23" fill="#3f8ec0" stroke="#377da9" stroke-width="0.6"/>
<circle cx="725.45" cy="217.85" r="5.46" fill="#3682ba" stroke="#3072a4" stroke-width="0.6"/>
<circle cx="739.35" cy="217.85" r="1.98" fill="#fef1e9"/>
<circle cx="753.25" cy="217.85" r="1.98" fill="#fef1e9"/>
<circle cx="669.85" cy="231.75" r="3.96" fill="#f8bb9e"/>
<circle cx="683.75" cy="231.75" r="3.19" fill="#cee4ef"/>
<circle cx="697.65" cy="231.75" r="6.66" fill="#073366" stroke="#062d5a" stroke-width="0.6"/>
<circle cx="711.55" cy="231.75" r="6.28" fill="#154f8c" stroke="#12467b" stroke-width="0.6"/>
<circle cx="725.45" cy="231.75" r="6.28" fill="#154f8c" stroke="#12467b" stroke-width="0.6"/>
<circle cx="739.35" cy="231.75" r="3.28" fill="#fcd6c0"/>
<circle cx="753.25" cy="231.75" r="2.97" fill="#fddfcd"/>
<circle cx="669.85" cy="245.65" r="3.96" fill="#f8bb9e"/>
<circle cx="683.75" cy="245.65" r="3.19" fill="#cee4ef"/>
<circle cx="697.65" cy="245.65" r="6.66" fill="#073366" stroke="#062d5a" stroke-width="0.6"/>
<circle cx="711.55" cy="245.65" r="6.28" fill="#154f8c" stroke="#12467b" stroke-width="0.6"/>
<circle cx="725.45" cy="245.65" r="6.40" fill="#114781" stroke="#0f3e72" stroke-width="0.6"/>
<circle cx="739.35" cy="245.65" r="3.13" fill="#fddbc7"/>
<circle cx="753.25" cy="245.65" r="3.13" fill="#fddbc7"/>
<circle cx="669.85" cy="259.55" r="3.13" fill="#fddbc7"/>
<circle cx="683.75" cy="259.55" r="3.57" fill="#bedbeb"/>
<circle cx="697.65" cy="259.55" r="5.59" fill="#317bb7" stroke="#2b6ca1" stroke-width="0.6"/>
<circle cx="711.55" cy="259.55" r="5.23" fill="#3f8ec0" stroke="#377da9" stroke-width="0.6"/>
<circle cx="725.45" cy="259.55" r="6.28" fill="#154f8c" stroke="#12467b" stroke-width="0.6"/>
<circle cx="739.35" cy="259.55" r="4.43" fill="#f4a582"/>
<circle cx="753.25" cy="259.55" r="5.03" fill="#d96752" stroke="#bf5b48" stroke-width="0.6"/>
<circle cx="669.85" cy="273.45" r="3.13" fill="#fddbc7"/>
<circle cx="683.75" cy="273.45" r="4.04" fill="#a7d0e4"/>
<circle cx="697.65" cy="273.45" r="5.67" fill="#2d76b4" stroke="#28689e" stroke-width="0.6"/>
<circle cx="711.55" cy="273.45" r="5.59" fill="#317bb7" stroke="#2b6ca1" stroke-width="0.6"/>
<circle cx="725.45" cy="273.45" r="6.28" fill="#154f8c" stroke="#12467b" stroke-width="0.6"/>
<circle cx="739.35" cy="273.45" r="4.43" fill="#f4a582"/>
<circle cx="753.25" cy="273.45" r="4.55" fill="#e8896d" stroke="#cc7960" stroke-width="0.6"/>
<circle cx="669.85" cy="287.35" r="3.57" fill="#bedbeb"/>
<circle cx="683.75" cy="287.35" r="3.91" fill="#aed3e6"/>
<circle cx="697.65" cy="287.35" r="4.43" fill="#f4a582"/>
<circle cx="711.55" cy="287.35" r="3.96" fill="#f8bb9e"/>
<circle cx="725.45" cy="287.35" r="2.42" fill="#fee9dd"/>
<circle cx="739.35" cy="287.35" r="4.89" fill="#de715a" stroke="#c3634f" stroke-width="0.6"/>
<circle cx="753.25" cy="287.35" r="4.55" fill="#e8896d" stroke="#cc7960" stroke-width="0.6"/>
<circle cx="669.85" cy="301.25" r="3.50" fill="#fbceb6"/>
<circle cx="683.75" cy="301.25" r="2.26" fill="#e7f1f7"/>
<circle cx="697.65" cy="301.25" r="6.47" fill="#0e4179" stroke="#0c396a" stroke-width="0.6"/>
<circle cx="711.55" cy="301.25" r="5.67" fill="#2d76b4" stroke="#28689e" stroke-width="0.6"/>
<circle cx="725.45" cy="301.25" r="6.00" fill="#1f63a8" stroke="#1b5794" stroke-width="0.6"/>
<circle cx="739.35" cy="301.25" r="2.42" fill="#fee9dd"/>
<circle cx="753.25" cy="301.25" r="2.42" fill="#fee9dd"/>
<circle cx="669.85" cy="315.15" r="3.28" fill="#fcd6c0"/>
<circle cx="683.75" cy="315.15" r="1.24" fill="#f8fbfd"/>
<circle cx="697.65" cy="315.15" r="6.08" fill="#1d5da0" stroke="#1a528d" stroke-width="0.6"/>
<circle cx="711.55" cy="315.15" r="4.99" fill="#4e9ac7" stroke="#4588af" stroke-width="0.6"/>
<circle cx="725.45" cy="315.15" r="5.46" fill="#3682ba" stroke="#3072a4" stroke-width="0.6"/>
<circle cx="739.35" cy="315.15" r="2.97" fill="#fddfcd"/>
<circle cx="753.25" cy="315.15" r="2.71" fill="#fee4d5"/>
<circle cx="669.85" cy="329.05" r="3.13" fill="#fddbc7"/>
<circle cx="683.75" cy="329.05" r="1.01" fill="#fafcfd"/>
<circle cx="697.65" cy="329.05" r="6.08" fill="#1d5da0" stroke="#1a528d" stroke-width="0.6"/>
<circle cx="711.55" cy="329.05" r="4.85" fill="#5aa2cb" stroke="#4f8fb3" stroke-width="0.6"/>
<circle cx="725.45" cy="329.05" r="5.46" fill="#3682ba" stroke="#3072a4" stroke-width="0.6"/>
<circle cx="739.35" cy="329.05" r="2.21" fill="#feede3"/>
<circle cx="753.25" cy="329.05" r="2.21" fill="#feede3"/>
<circle cx="669.85" cy="342.95" r="3.70" fill="#f9c5ab"/>
<circle cx="683.75" cy="342.95" r="2.26" fill="#e7f1f7"/>
<circle cx="697.65" cy="342.95" r="6.55" fill="#0b3c71" stroke="#0a3563" stroke-width="0.6"/>
<circle cx="711.55" cy="342.95" r="5.59" fill="#317bb7" stroke="#2b6ca1" stroke-width="0.6"/>
<circle cx="725.45" cy="342.95" r="6.28" fill="#154f8c" stroke="#12467b" stroke-width="0.6"/>
<circle cx="739.35" cy="342.95" r="2.42" fill="#fee9dd"/>
<circle cx="753.25" cy="342.95" r="3.28" fill="#fcd6c0"/>
<circle cx="669.85" cy="356.85" r="3.50" fill="#fbceb6"/>
<circle cx="683.75" cy="356.85" r="2.02" fill="#ecf4f9"/>
<circle cx="697.65" cy="356.85" r="6.47" fill="#0e4179" stroke="#0c396a" stroke-width="0.6"/>
<circle cx="711.55" cy="356.85" r="5.76" fill="#2a72b2" stroke="#25649d" stroke-width="0.6"/>
<circle cx="725.45" cy="356.85" r="5.76" fill="#2a72b2" stroke="#25649d" stroke-width="0.6"/>
<circle cx="739.35" cy="356.85" r="2.71" fill="#fee4d5"/>
<circle cx="753.25" cy="356.85" r="2.21" fill="#feede3"/>
<circle cx="669.85" cy="370.75" r="3.13" fill="#fddbc7"/>
<circle cx="683.75" cy="370.75" r="3.57" fill="#bedbeb"/>
<circle cx="697.65" cy="370.75" r="5.88" fill="#246aae" stroke="#205d99" stroke-width="0.6"/>
<circle cx="711.55" cy="370.75" r="5.67" fill="#2d76b4" stroke="#28689e" stroke-width="0.6"/>
<circle cx="725.45" cy="370.75" r="6.16" fill="#1a5898" stroke="#174d86" stroke-width="0.6"/>
<circle cx="739.35" cy="370.75" r="4.32" fill="#f5aa89"/>
<circle cx="753.25" cy="370.75" r="4.89" fill="#de715a" stroke="#c3634f" stroke-width="0.6"/>
<circle cx="669.85" cy="384.65" r="3.13" fill="#fddbc7"/>
<circle cx="683.75" cy="384.65" r="2.76" fill="#dbebf3"/>
<circle cx="697.65" cy="384.65" r="6.00" fill="#1f63a8" stroke="#1b5794" stroke-width="0.6"/>
<circle cx="711.55" cy="384.65" r="5.32" fill="#3b89be" stroke="#3479a7" stroke-width="0.6"/>
<circle cx="725.45" cy="384.65" r="6.40" fill="#114781" stroke="#0f3e72" stroke-width="0.6"/>
<circle cx="739.35" cy="384.65" r="4.32" fill="#f5aa89"/>
<circle cx="753.25" cy="384.65" r="4.89" fill="#de715a" stroke="#c3634f" stroke-width="0.6"/>
<circle cx="669.85" cy="398.55" r="3.70" fill="#f9c5ab"/>
<circle cx="683.75" cy="398.55" r="3.35" fill="#c8e0ed"/>
<circle cx="697.65" cy="398.55" r="6.66" fill="#073366" stroke="#062d5a" stroke-width="0.6"/>
<circle cx="711.55" cy="398.55" r="6.47" fill="#0e4179" stroke="#0c396a" stroke-width="0.6"/>
<circle cx="725.45" cy="398.55" r="6.40" fill="#114781" stroke="#0f3e72" stroke-width="0.6"/>
<circle cx="739.35" cy="398.55" r="3.83" fill="#f8c0a4"/>
<circle cx="753.25" cy="398.55" r="3.13" fill="#fddbc7"/>
<circle cx="669.85" cy="412.45" r="3.78" fill="#b4d6e8"/>
<circle cx="683.75" cy="412.45" r="3.28" fill="#fcd6c0"/>
<circle cx="697.65" cy="412.45" r="3.28" fill="#fcd6c0"/>
<circle cx="711.55" cy="412.45" r="2.97" fill="#fddfcd"/>
<circle cx="725.45" cy="412.45" r="3.28" fill="#fcd6c0"/>
<circle cx="739.35" cy="412.45" r="2.26" fill="#e7f1f7"/>
<circle cx="753.25" cy="412.45" r="1.60" fill="#f3f8fb"/>
<circle cx="669.85" cy="426.35" r="3.28" fill="#fcd6c0"/>
<circle cx="683.75" cy="426.35" r="2.26" fill="#e7f1f7"/>
<circle cx="697.65" cy="426.35" r="6.40" fill="#114781" stroke="#0f3e72" stroke-width="0.6"/>
<circle cx="711.55" cy="426.35" r="5.67" fill="#2d76b4" stroke="#28689e" stroke-width="0.6"/>
<circle cx="725.45" cy="426.35" r="5.76" fill="#2a72b2" stroke="#25649d" stroke-width="0.6"/>
<circle cx="739.35" cy="426.35" r="2.42" fill="#fee9dd"/>
<circle cx="753.25" cy="426.35" r="1.98" fill="#fef1e9"/>
<circle cx="669.85" cy="440.25" r="3.50" fill="#fbceb6"/>
<circle cx="683.75" cy="440.25" r="2.76" fill="#dbebf3"/>
<circle cx="697.65" cy="440.25" r="6.66" fill="#073366" stroke="#062d5a" stroke-width="0.6"/>
<circle cx="711.55" cy="440.25" r="6.16" fill="#1a5898" stroke="#174d86" stroke-width="0.6"/>
<circle cx="725.45" cy="440.25" r="6.28" fill="#154f8c" stroke="#12467b" stroke-width="0.6"/>
<circle cx="739.35" cy="440.25" r="2.97" fill="#fddfcd"/>
<circle cx="753.25" cy="440.25" r="2.97" fill="#fddfcd"/>
<circle cx="669.85" cy="454.15" r="3.50" fill="#fbceb6"/>
<circle cx="683.75" cy="454.15" r="3.91" fill="#aed3e6"/>
<circle cx="697.65" cy="454.15" r="6.16" fill="#1a5898" stroke="#174d86" stroke-width="0.6"/>
<circle cx="711.55" cy="454.15" r="6.16" fill="#1a5898" stroke="#174d86" stroke-width="0.6"/>
<circle cx="725.45" cy="454.15" r="6.47" fill="#0e4179" stroke="#0c396a" stroke-width="0.6"/>
<circle cx="739.35" cy="454.15" r="2.97" fill="#fddfcd"/>
<circle cx="753.25" cy="454.15" r="2.97" fill="#fddfcd"/>
</g>
<circle cx="669.85" cy="478.25" r="4.21" fill="#8cc1dc" stroke="#7baac2" stroke-width="0.6"/>
<circle cx="683.75" cy="478.25" r="2.21" fill="#feede3"/>
<circle cx="697.65" cy="478.25" r="6.15" fill="#9f1228" stroke="#8c1023" stroke-width="0.6"/>
<circle cx="711.55" cy="478.25" r="5.76" fill="#bb2a34" stroke="#a5252e" stroke-width="0.6"/>
<circle cx="725.45" cy="478.25" r="6.15" fill="#9f1228" stroke="#8c1023" stroke-width="0.6"/>
<circle cx="739.35" cy="478.25" r="4.40" fill="#94c6de"/>
<circle cx="753.25" cy="478.25" r="4.40" fill="#94c6de"/>
<circle cx="669.85" cy="492.15" r="1.24" fill="#f8fbfd"/>
<circle cx="683.75" cy="492.15" r="2.76" fill="#dbebf3"/>
<circle cx="697.65" cy="492.15" r="4.89" fill="#de715a" stroke="#c3634f" stroke-width="0.6"/>
<circle cx="711.55" cy="492.15" r="4.65" fill="#e58268" stroke="#ca725c" stroke-width="0.6"/>
<circle cx="725.45" cy="492.15" r="5.03" fill="#d96752" stroke="#bf5b48" stroke-width="0.6"/>
<circle cx="739.35" cy="492.15" r="5.76" fill="#2a72b2" stroke="#25649d" stroke-width="0.6"/>
<circle cx="753.25" cy="492.15" r="5.46" fill="#3682ba" stroke="#3072a4" stroke-width="0.6"/>
<g font-family="Liberation Serif" font-size="11.9" text-anchor="end" fill="#000">
<text x="659.3" y="12.10">Betaproteobacteria</text>
<text x="659.3" y="26.03">Methylophilales</text>
<text x="659.3" y="39.96">Methylophilaceae</text>
<text x="658.1" y="53.89" font-style="italic">Mobilis</text>
<text x="659.3" y="67.82">Methylotenera</text>
<text x="659.3" y="81.75">Burkholderiales</text>
<text x="659.3" y="95.68">Comamonadaceae</text>
<text x="659.3" y="109.61">Rhodocyclales</text>
<text x="659.3" y="123.54">Rhodocyclaceae</text>
<text x="659.3" y="137.47">Sphingomonadales</text>
<text x="659.3" y="151.40">Bdellovibrionales</text>
<text x="659.3" y="165.33">Bacteriovoracaceae</text>
<text x="659.3" y="179.26">Xanthomonadaceae</text>
<text x="658.1" y="193.19" font-style="italic">Dechloromonas</text>
<text x="658.1" y="207.12" font-style="italic">Pseudomonas</text>
<text x="658.1" y="221.05" font-style="italic">Simplicispira</text>
<text x="658.1" y="234.98" font-style="italic">Zoogloea</text>
<text x="658.1" y="248.91" font-style="italic">Gelidilacus</text>
<text x="659.3" y="262.84">Aeromonadales</text>
<text x="659.3" y="276.77">Aeromonadaceae</text>
<text x="658.1" y="290.70" font-style="italic">Rhodoferax</text>
<text x="658.1" y="304.63" font-style="italic">Starrii</text>
<text x="658.1" y="318.56" font-style="italic">Peredibacter</text>
<text x="658.1" y="332.49" font-style="italic">Aquabacterium</text>
<text x="658.1" y="346.42" font-style="italic">Methyloversatilis</text>
<text x="659.3" y="360.35">Neisseriaceae</text>
<text x="659.3" y="374.28">Neisseriales</text>
<text x="658.1" y="388.21" font-style="italic">Vogesella</text>
<text x="659.3" y="402.14">Chromatiaceae</text>
<text x="658.1" y="416.07" font-style="italic">Acidovorax</text>
<text x="658.1" y="430.00" font-style="italic">Novosphingobium</text>
<text x="658.1" y="443.93" font-style="italic">Polaromonas</text>
<text x="658.1" y="457.86" font-style="italic">Limnohabitans</text>
<text x="659.3" y="483.10">Phycisphaerae</text>
<text x="658.1" y="497.03" font-style="italic">Rhodovibrio</text>
</g>
<g stroke="#1b2e1b" stroke-width="0.9">
<rect x="776.2" y="3.10" width="138.50" height="11.60" fill="#009b00"/>
<rect x="776.2" y="17.05" width="130.70" height="11.60" fill="#009b00"/>
<rect x="776.2" y="31.00" width="130.60" height="11.60" fill="#009b00"/>
<rect x="776.2" y="44.95" width="128.30" height="11.60" fill="#009b00"/>
<rect x="776.2" y="58.90" width="128.50" height="11.60" fill="#009b00"/>
<rect x="776.2" y="72.85" width="122.40" height="11.60" fill="#009b00"/>
<rect x="776.2" y="86.80" width="120.90" height="11.60" fill="#009b00"/>
<rect x="776.2" y="100.75" width="110.10" height="11.60" fill="#009b00"/>
<rect x="776.2" y="114.70" width="110.10" height="11.60" fill="#009b00"/>
<rect x="776.2" y="128.65" width="106.70" height="11.60" fill="#009b00"/>
<rect x="776.2" y="142.60" width="106.00" height="11.60" fill="#009b00"/>
<rect x="776.2" y="156.55" width="105.30" height="11.60" fill="#009b00"/>
<rect x="776.2" y="170.50" width="102.10" height="11.60" fill="#009b00"/>
<rect x="776.2" y="184.45" width="99.90" height="11.60" fill="#009b00"/>
<rect x="776.2" y="198.40" width="98.10" height="11.60" fill="#009b00"/>
<rect x="776.2" y="212.35" width="96.30" height="11.60" fill="#009b00"/>
<rect x="776.2" y="226.30" width="92.40" height="11.60" fill="#009b00"/>
<rect x="776.2" y="240.25" width="90.60" height="11.60" fill="#009b00"/>
<rect x="776.2" y="254.20" width="88.20" height="11.60" fill="#009b00"/>
<rect x="776.2" y="268.15" width="88.20" height="11.60" fill="#009b00"/>
<rect x="776.2" y="282.10" width="87.70" height="11.60" fill="#009b00"/>
<rect x="776.2" y="296.05" width="85.50" height="11.60" fill="#009b00"/>
<rect x="776.2" y="310.00" width="85.50" height="11.60" fill="#009b00"/>
<rect x="776.2" y="323.95" width="85.30" height="11.60" fill="#009b00"/>
<rect x="776.2" y="337.90" width="84.60" height="11.60" fill="#009b00"/>
<rect x="776.2" y="351.85" width="84.30" height="11.60" fill="#009b00"/>
<rect x="776.2" y="365.80" width="84.30" height="11.60" fill="#009b00"/>
<rect x="776.2" y="379.75" width="83.70" height="11.60" fill="#009b00"/>
<rect x="776.2" y="393.70" width="82.30" height="11.60" fill="#009b00"/>
<rect x="776.2" y="407.65" width="81.60" height="11.60" fill="#009b00"/>
<rect x="776.2" y="421.60" width="81.20" height="11.60" fill="#009b00"/>
<rect x="776.2" y="435.55" width="74.80" height="11.60" fill="#009b00"/>
<rect x="776.2" y="449.50" width="70.40" height="9.00" fill="#009b00"/>
<rect x="776.2" y="474.40" width="108.10" height="11.6" fill="#f00000"/>
<rect x="776.2" y="488.40" width="77.60" height="11.6" fill="#f00000"/>
</g>
<!-- bottom labels -->
<g font-size="18.5" fill="#000">
<text x="512.6" y="535.7" font-size="18.7">Microorganisms</text>
<text x="781.6" y="537.3">LDA score (log10)</text>
</g>
<g font-size="14" fill="#000" text-anchor="end" id="collabs">
<text transform="translate(674.20,502.5) rotate(-90)">DO</text>
<text transform="translate(688.75,502.5) rotate(-90)">w.AP</text>
<text transform="translate(703.30,502.5) rotate(-90)">COD</text>
<text transform="translate(717.85,502.5) rotate(-90)">w.NH<tspan font-size="11.5" dy="3.5">3</tspan><tspan dy="-3.5">-N</tspan></text>
<text transform="translate(732.40,502.5) rotate(-90)">Temp.</text>
<text transform="translate(746.95,502.5) rotate(-90)">s.NH<tspan font-size="11.5" dy="3.5">3</tspan><tspan dy="-3.5">-N</tspan></text>
<text transform="translate(761.50,502.5) rotate(-90)">s.AP</text>
</g>
</svg>
</body></html>
